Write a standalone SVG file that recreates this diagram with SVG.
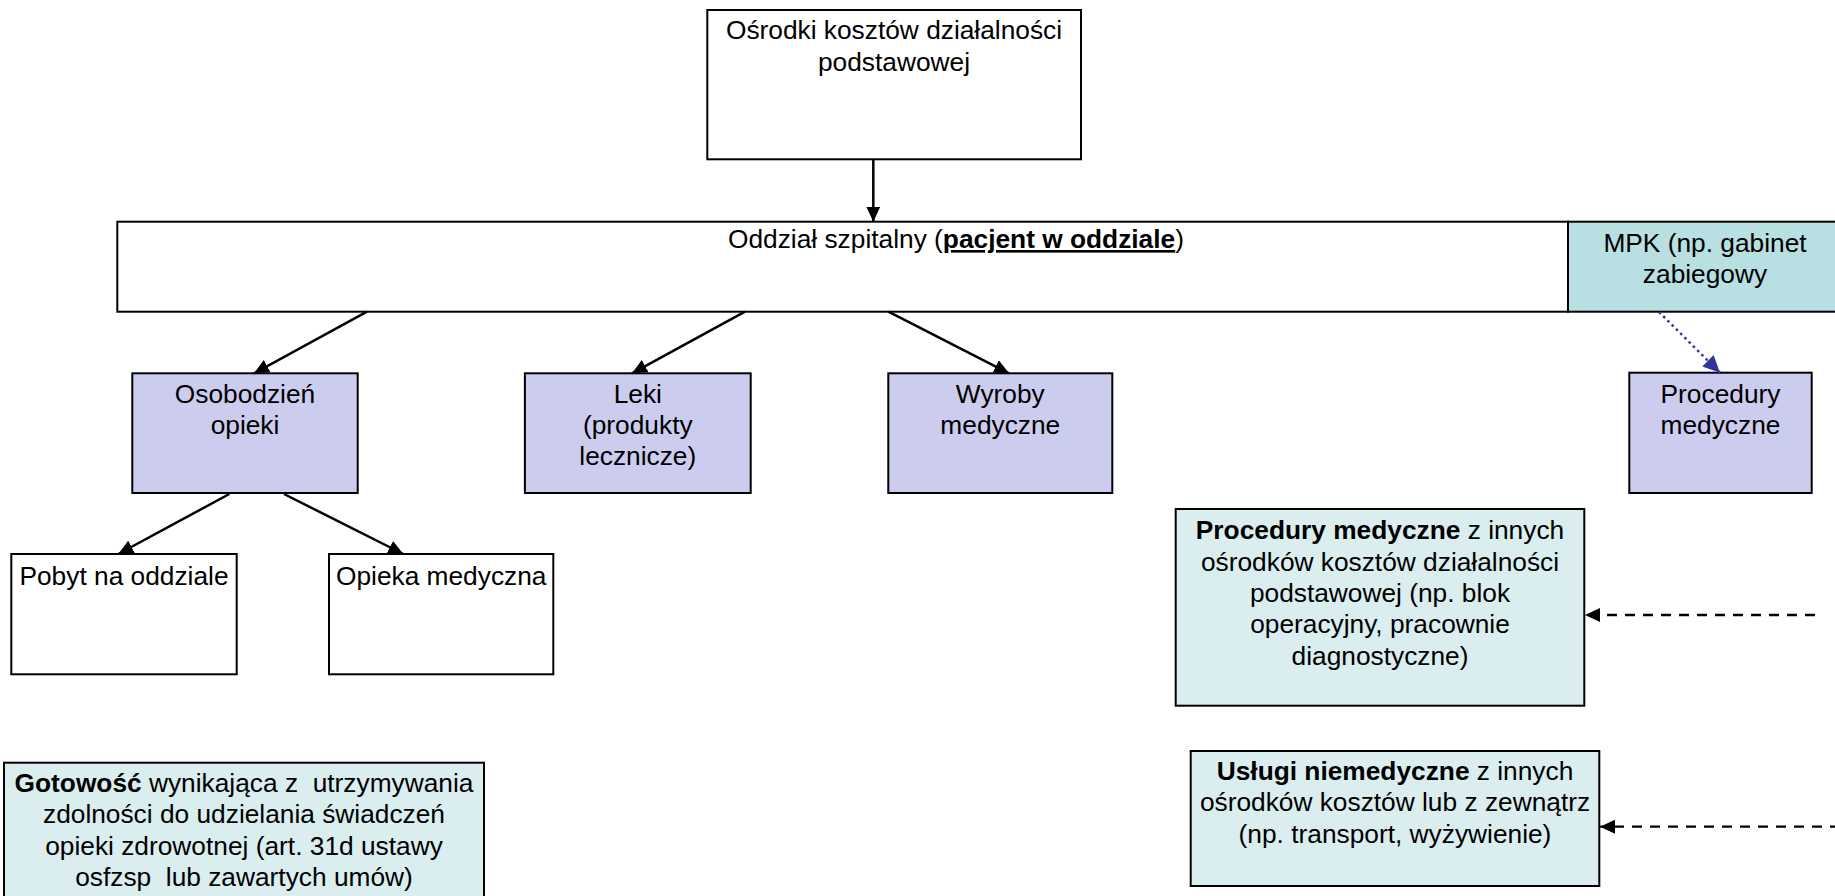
<svg xmlns="http://www.w3.org/2000/svg" width="1835" height="896" viewBox="0 0 1835 896">
<style>
text{font-family:"Liberation Sans",Arial,sans-serif;font-size:26.3px;fill:#000;text-anchor:middle}
.b{font-weight:bold}
.box{stroke:#000;stroke-width:2}
.white{fill:#fff}
.lav{fill:#ccccee}
.teal{fill:#daeef0}
.mpk{fill:#b8dfe2}
.ln{stroke:#000;stroke-width:2.5;fill:none}
.dash{stroke:#000;stroke-width:2.3;fill:none;stroke-dasharray:10 8}
.dot{stroke:#333399;stroke-width:2.5;fill:none;stroke-dasharray:2.5 3.5}
</style>
<defs>
<marker id="ah" markerUnits="userSpaceOnUse" markerWidth="16" markerHeight="14" refX="15" refY="7" orient="auto">
<path d="M0,0 L15,7 L0,14 z" fill="#000"/>
</marker>
<marker id="ahb" markerUnits="userSpaceOnUse" markerWidth="18" markerHeight="16" refX="17" refY="8" orient="auto">
<path d="M0,0 L17,8 L0,16 z" fill="#333399"/>
</marker>
</defs>

<g id="top">
<rect class="box white" x="707.3" y="10" width="373.7" height="149.3"/>
<text x="894" y="39.3">Ośrodki kosztów działalności</text>
<text x="894" y="70.7">podstawowej</text>
</g>

<g id="oddzial">
<rect class="box white" x="117.3" y="221.7" width="1450.7" height="90"/>
<text x="728" y="248" style="text-anchor:start">Oddział szpitalny (<tspan class="b" text-decoration="underline">pacjent w oddziale</tspan>)</text>
</g>

<g id="mpk">
<rect class="box mpk" x="1568" y="221.7" width="274" height="90"/>
<text x="1705" y="251.7">MPK (np. gabinet</text>
<text x="1705" y="283.3">zabiegowy</text>
</g>

<g id="osobodzien">
<rect class="box lav" x="132.3" y="373.3" width="225.4" height="119.7"/>
<text x="245" y="402.7">Osobodzień</text>
<text x="245" y="434">opieki</text>
</g>

<g id="leki">
<rect class="box lav" x="524.9" y="373.3" width="225.8" height="119.7"/>
<text x="637.8" y="402.7">Leki</text>
<text x="637.8" y="434">(produkty</text>
<text x="637.8" y="465.4">lecznicze)</text>
</g>

<g id="wyroby">
<rect class="box lav" x="888.3" y="373.3" width="224" height="119.7"/>
<text x="1000.3" y="402.7">Wyroby</text>
<text x="1000.3" y="434">medyczne</text>
</g>

<g id="procedury">
<rect class="box lav" x="1629.3" y="372.7" width="182.4" height="120.3"/>
<text x="1720.5" y="402.7">Procedury</text>
<text x="1720.5" y="434.3">medyczne</text>
</g>

<g id="pobyt">
<rect class="box white" x="11.3" y="554" width="225.4" height="120.3"/>
<text x="124" y="585">Pobyt na oddziale</text>
</g>

<g id="opieka">
<rect class="box white" x="329" y="554" width="224.3" height="120.3"/>
<text x="441.2" y="585">Opieka medyczna</text>
</g>

<g id="procedury-inne">
<rect class="box teal" x="1175.7" y="509" width="408.6" height="196.7"/>
<text x="1380" y="539.3"><tspan class="b">Procedury medyczne</tspan> z innych</text>
<text x="1380" y="570.7">ośrodków kosztów działalności</text>
<text x="1380" y="602">podstawowej (np. blok</text>
<text x="1380" y="633.4">operacyjny, pracownie</text>
<text x="1380" y="664.8">diagnostyczne)</text>
</g>

<g id="uslugi">
<rect class="box teal" x="1190.7" y="751" width="408.6" height="135"/>
<text x="1395" y="780"><tspan class="b">Usługi niemedyczne</tspan> z innych</text>
<text x="1395" y="811.4">ośrodków kosztów lub z zewnątrz</text>
<text x="1395" y="842.8">(np. transport, wyżywienie)</text>
</g>

<g id="gotowosc">
<rect class="box teal" x="4" y="762.7" width="480" height="136"/>
<text x="244" y="791.7" xml:space="preserve"><tspan class="b">Gotowość</tspan> wynikająca z  utrzymywania</text>
<text x="244" y="823">zdolności do udzielania świadczeń</text>
<text x="244" y="854.5">opieki zdrowotnej (art. 31d ustawy</text>
<text x="244" y="886" xml:space="preserve">osfzsp  lub zawartych umów)</text>
</g>

<g id="connectors">
<line class="ln" x1="873.3" y1="159.3" x2="873.3" y2="221.7" marker-end="url(#ah)"/>
<line class="ln" x1="367" y1="311.7" x2="254" y2="373.3" marker-end="url(#ah)"/>
<line class="ln" x1="745" y1="311.7" x2="632" y2="373.3" marker-end="url(#ah)"/>
<line class="ln" x1="888.4" y1="311.7" x2="1009" y2="373.3" marker-end="url(#ah)"/>
<line class="ln" x1="229.3" y1="494" x2="118.3" y2="554" marker-end="url(#ah)"/>
<line class="ln" x1="284" y1="494" x2="403.3" y2="554" marker-end="url(#ah)"/>
<line class="dot" x1="1659" y1="312" x2="1720" y2="372.7" marker-end="url(#ahb)"/>
<line class="dash" x1="1815" y1="615" x2="1585" y2="615" marker-end="url(#ah)"/>
<line class="dash" x1="1840" y1="826.7" x2="1600" y2="826.7" marker-end="url(#ah)"/>
</g>
</svg>
